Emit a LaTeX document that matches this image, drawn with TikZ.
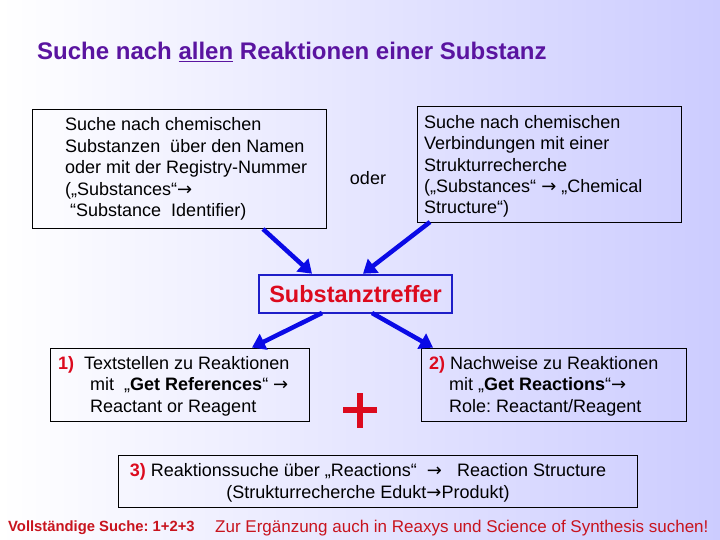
\documentclass[tikz,border=0pt]{standalone}
\usepackage{fontspec}
\setmainfont{Liberation Sans}
\newfontfamily\arrfont{DejaVu Sans}
\usetikzlibrary{arrows.meta}
\frenchspacing
\definecolor{bgright}{RGB}{204,204,255}
\definecolor{titlepurple}{RGB}{90,20,160}
\definecolor{hitred}{RGB}{220,10,30}
\definecolor{darkred}{RGB}{200,20,30}
\definecolor{arrblue}{RGB}{10,10,230}
\definecolor{boxblue}{RGB}{30,30,200}
\newcommand{\ra}{{\arrfont →}}
\tikzset{
  plainbox/.style={draw=black, line width=0.9pt, rectangle, inner sep=0pt},
  bodytext/.style={font=\fontsize{18}{21.4}\selectfont, align=left, inner sep=0pt},
  bigarrow/.style={draw=arrblue, line width=4.5pt, -{Triangle[length=13pt,width=17pt]}, shorten >=0pt}
}
\begin{document}
\begin{tikzpicture}[x=1pt,y=-1pt]
\shade[left color=white, right color=bgright] (0,0) rectangle (720,540);
\useasboundingbox (0,0) rectangle (720,540);

% title
\node[anchor=west, inner sep=0pt, text=titlepurple, font=\fontsize{24}{28}\selectfont\bfseries] (title) at (37,52)
  {Suche nach \underline{allen} Reaktionen einer Substanz};

% left top box
\node[plainbox, minimum width=294, minimum height=119] (lb) at (179,168.5) {};
\node[bodytext, anchor=west] (lbt) at (65,169)
  {Suche nach chemischen\\
   Substanzen\ \ über den Namen\\
   oder mit der Registry-Nummer\\
   („Substances“\ra\\
   \ “Substance\ \ Identifier)};

% oder
\node[bodytext] (oder) at (368,178) {oder};

% right top box
\node[plainbox, minimum width=264, minimum height=116] (rb) at (549,164) {};
\node[bodytext, anchor=west] (rbt) at (424,166.5)
  {Suche nach chemischen\\
   Verbindungen mit einer\\
   Strukturrecherche\\
   („Substances“ \ra\ „Chemical\\
   Structure“)};

% Substanztreffer
\node[draw=boxblue, line width=2.6pt, minimum width=193, minimum height=38, inner sep=0pt,
      text=hitred, font=\fontsize{23.5}{27}\selectfont\bfseries] (hit) at (355.5,294) {Substanztreffer};

% box 1
\node[plainbox, minimum width=259, minimum height=73] (b1) at (179.5,384.5) {};
\node[bodytext, anchor=north west] (b1t) at (58,356)
  {\textcolor{hitred}{\textbf{1)}}\ \ Textstellen zu Reaktionen\\
   \hspace*{32pt}mit\ \ „\textbf{Get References}“ \ra\\
   \hspace*{32pt}Reactant or Reagent};

% box 2
\node[plainbox, minimum width=265, minimum height=73] (b2) at (553.5,384.5) {};
\node[bodytext, anchor=north west] (b2t) at (429,356)
  {\textcolor{hitred}{\textbf{2)}} Nachweise zu Reaktionen\\
   \hspace*{20pt}mit „\textbf{Get Reactions}“\ra\\
   \hspace*{20pt}Role: Reactant/Reagent};

% plus
\coordinate (pl) at (343,410);
\coordinate (pr) at (377,410);
\coordinate (pt) at (360,393);
\coordinate (pb) at (360,428);
\draw[hitred, line width=5.5pt] (pl) -- (pr);
\draw[hitred, line width=5.5pt] (pt) -- (pb);

% box 3
\node[plainbox, minimum width=519, minimum height=52] (b3) at (377.5,481) {};
\node[bodytext, align=center] (b3t) at (368,483)
  {\textcolor{hitred}{\textbf{3)}} Reaktionssuche über „Reactions“\ \ \ra\ \ \ Reaction Structure\\
   (Strukturrecherche Edukt\ra Produkt)};

% bottom texts
\node[anchor=west, inner sep=0pt, text=darkred, font=\fontsize{14.8}{17}\selectfont\bfseries] (voll) at (8,528)
  {Vollständige Suche: 1+2+3};
\node[anchor=west, inner sep=0pt, text=darkred, font=\fontsize{17}{20}\selectfont] (zur) at (215,528)
  {Zur Ergänzung auch in Reaxys und Science of Synthesis suchen!};

% arrows
\coordinate (a1s) at (263,229);
\coordinate (a2s) at (430,222);
\path[bigarrow] (a1s) -- (hit.north -| 312,0);
\path[bigarrow] (a2s) -- (hit.north -| 363,0);
\coordinate (d1s) at (322,313);
\coordinate (d2s) at (372,313);
\path[bigarrow] (d1s) -- (b1.north -| 252,0);
\path[bigarrow] (d2s) -- (b2.north -| 433,0);
\end{tikzpicture}
\end{document}
